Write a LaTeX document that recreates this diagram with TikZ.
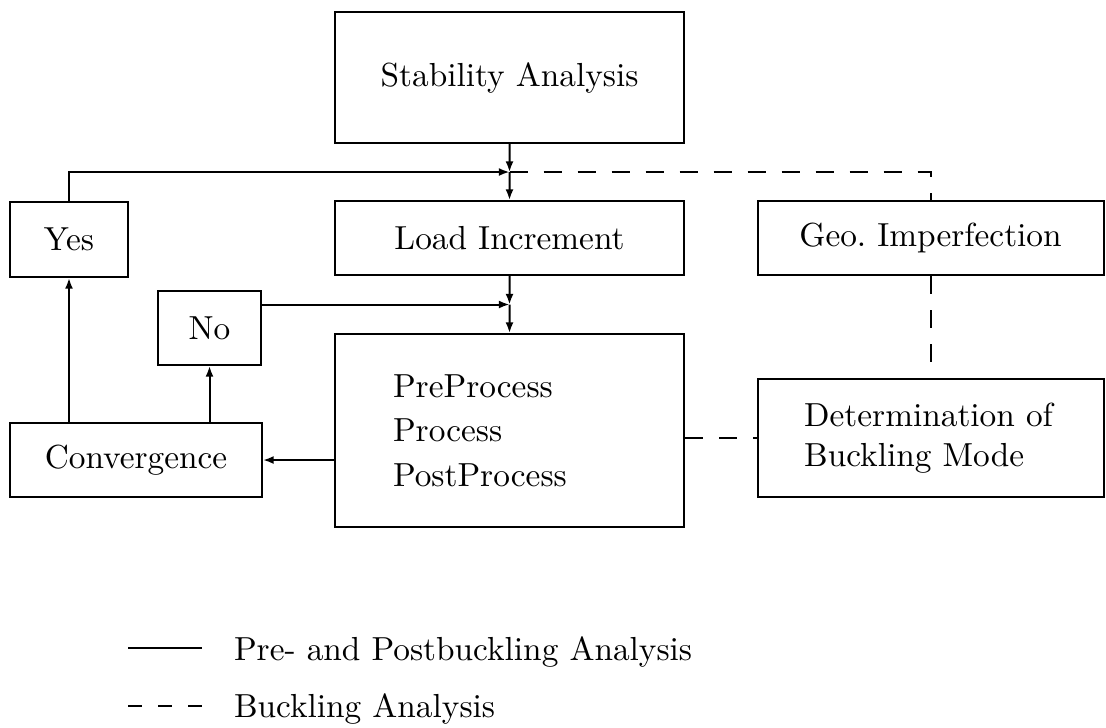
\documentclass[tikz,border=0pt]{standalone}
\usepackage{tikz}
\usetikzlibrary{positioning}
\usetikzlibrary{calc}
\usetikzlibrary{arrows.meta}
\tikzset{>={Latex[length=3.2pt,width=2.4pt]}}

\begin{document}
\begin{tikzpicture}[x=0.3pt, y=-0.3pt, line width=0.6pt,
  box/.style={draw, rectangle, inner sep=0pt},
  link/.style={dash pattern=on 5.4pt off 4.8pt}]
\useasboundingbox (0,0) rectangle (1106,727);
% main column
\node (sa) at (509.5,77.5) [box, minimum width=104.7pt, minimum height=39.3pt] {Stability Analysis};
\node (li) [below of=sa, node distance=48.15pt, box, minimum width=104.7pt, minimum height=22.2pt] {Load Increment};
\node (pp) [below of=li, node distance=57.75pt, box, minimum width=104.7pt, minimum height=57.9pt,
  align=left, text width=69.9pt, inner xsep=17.4pt] {PreProcess\\[1.4pt]Process\\[1.4pt]PostProcess};
% buckling branch
\node (gi) [right of=li, node distance=126.3pt, box, minimum width=103.8pt, minimum height=22.2pt] {Geo.\ Imperfection};
\node (bm) [below of=gi, node distance=60pt, box, minimum width=103.8pt, minimum height=35.4pt,
  align=left, text width=75.8pt, inner xsep=14pt] {Determination of\\Buckling Mode};
% convergence loop
\node (yes) at (69,239.5) [box, minimum width=35.4pt, minimum height=22.5pt] {Yes};
\node (no) at (209.5,328) [box, minimum width=30.9pt, minimum height=22.2pt] {No};
\node (conv) at (136,460) [box, minimum width=75.6pt, minimum height=22.2pt] {Convergence};

\coordinate (j1) at ($(sa.south)!.5!(li.north)$);
\coordinate (j2) at ($(li.south)!.5!(pp.north)$);

\draw[->] (sa) -- (j1);
\draw[->] (j1) -- (li);
\draw[->] (yes.north) |- (j1);
\draw[->] (li) -- (j2);
\draw[->] (j2) -- (pp);
\draw[->] (no.east |- j2) -- (j2);
\draw[->] (pp.west |- conv.east) -- (conv.east);
\draw[->] (conv.north -| yes) -- (yes);
\draw[->] (conv.north -| no) -- (no);

\draw[link] (j1) -| (gi.north);
\draw[link] (gi) -- (bm);
\draw[link] (pp.east |- bm.west) -- (bm.west);

% legend
\node (l1) at (233,660) [anchor=base west, inner sep=0pt] {Pre- and Postbuckling Analysis};
\node (l2) at (233,717) [anchor=base west, inner sep=0pt] {Buckling Analysis};
\coordinate (s1) at (128,648);
\coordinate (s2) at (128,706);
\draw (s1) -- ++(74,0);
\draw[dash pattern=on 4.2pt off 4.8pt] (s2) -- ++(74,0);
\end{tikzpicture}
\end{document}
